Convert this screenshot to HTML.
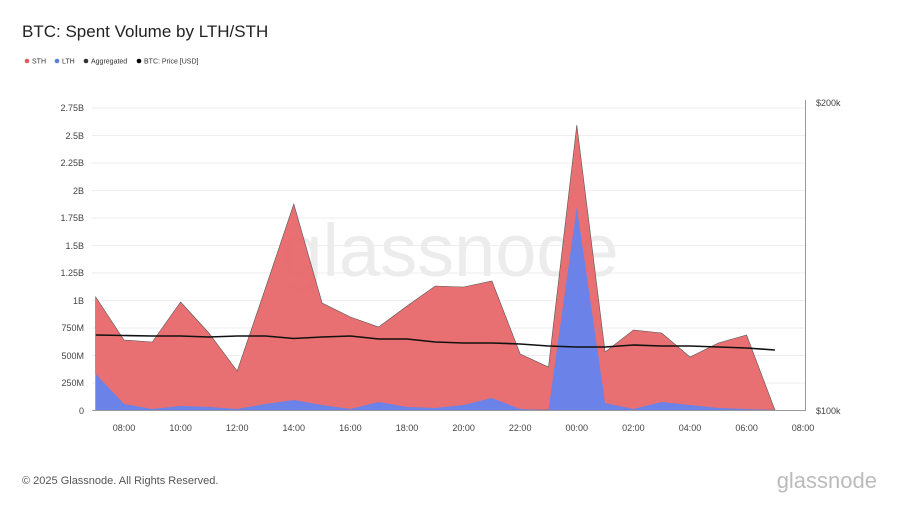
<!DOCTYPE html>
<html><head><meta charset="utf-8"><style>
body{margin:0;width:900px;height:506px;background:#fff;font-family:"Liberation Sans",sans-serif;overflow:hidden}
</style></head><body>
<svg width="900" height="506" xmlns="http://www.w3.org/2000/svg" font-family="Liberation Sans, sans-serif">
<text x="22" y="37" font-size="17" fill="#222">BTC: Spent Volume by LTH/STH</text>
<g font-size="7" fill="#333">
<circle cx="27" cy="61" r="2.3" fill="#e05a5c"/><text x="32" y="63.5">STH</text>
<circle cx="57" cy="61" r="2.3" fill="#5a7ce0"/><text x="62" y="63.5">LTH</text>
<circle cx="86" cy="61" r="2.3" fill="#333"/><text x="91" y="63.5">Aggregated</text>
<circle cx="139" cy="61" r="2.3" fill="#000"/><text x="144" y="63.5">BTC: Price [USD]</text>
</g>
<g stroke="#eee" stroke-width="1">
<line x1="92" x2="805" y1="108" y2="108"/><line x1="92" x2="805" y1="135.5" y2="135.5"/><line x1="92" x2="805" y1="163" y2="163"/><line x1="92" x2="805" y1="190.5" y2="190.5"/><line x1="92" x2="805" y1="218" y2="218"/><line x1="92" x2="805" y1="245.5" y2="245.5"/><line x1="92" x2="805" y1="273" y2="273"/><line x1="92" x2="805" y1="300.5" y2="300.5"/><line x1="92" x2="805" y1="328" y2="328"/><line x1="92" x2="805" y1="355.5" y2="355.5"/><line x1="92" x2="805" y1="383" y2="383"/>
</g>
<text x="450" y="276" font-size="74" fill="#ececec" text-anchor="middle">glassnode</text>
<g font-size="9" fill="#444" text-anchor="end">
<text x="84" y="111">2.75B</text><text x="84" y="139">2.5B</text><text x="84" y="166">2.25B</text><text x="84" y="194">2B</text><text x="84" y="221">1.75B</text><text x="84" y="249">1.5B</text><text x="84" y="276">1.25B</text><text x="84" y="304">1B</text><text x="84" y="331">750M</text><text x="84" y="359">500M</text><text x="84" y="386">250M</text><text x="84" y="414">0</text>
</g>
<polygon fill="#e8686a" fill-opacity="0.95" stroke="#555" stroke-width="0.6" points="95.7,410 95.7,297 124,340 152.3,342 180.6,302 208.9,333 237.2,371 265.5,288 293.8,204 322.1,303 350.4,317 378.7,327 407,306 435.3,286 463.6,287 491.9,281 520.2,354 548.5,367 576.8,125 605.1,352 633.4,330 661.7,333 690,357 718.3,343 746.6,335 774.9,410"/>
<polygon fill="#6b82e8" points="95.7,410 95.7,374 124,404 152.3,409 180.6,406 208.9,407 237.2,409 265.5,404 293.8,400 322.1,405 350.4,409 378.7,402 407,407 435.3,408 463.6,405 491.9,398 520.2,409 548.5,410 576.8,207 605.1,403 633.4,409 661.7,402 690,405 718.3,408 746.6,409 774.9,410"/>
<polyline fill="none" stroke="#111" stroke-width="1.6" points="95.7,335 124,335.5 152.3,336 180.6,336 208.9,337 237.2,336 265.5,336 293.8,338.5 322.1,337 350.4,336 378.7,339 407,339 435.3,342 463.6,343 491.9,343 520.2,344 548.5,346 576.8,347 605.1,347 633.4,345 661.7,346 690,346 718.3,347 746.6,348 774.9,350"/>
<line x1="92" x2="805" y1="410.5" y2="410.5" stroke="#999"/>
<line x1="805.5" x2="805.5" y1="100" y2="411" stroke="#999"/>
<g font-size="9" fill="#444" text-anchor="middle">
<text x="124" y="431">08:00</text><text x="180.6" y="431">10:00</text><text x="237.2" y="431">12:00</text><text x="293.8" y="431">14:00</text><text x="350.4" y="431">16:00</text><text x="407" y="431">18:00</text><text x="463.6" y="431">20:00</text><text x="520.2" y="431">22:00</text><text x="576.8" y="431">00:00</text><text x="633.4" y="431">02:00</text><text x="690" y="431">04:00</text><text x="746.6" y="431">06:00</text><text x="803" y="431">08:00</text>
</g>
<g font-size="9" fill="#444"><text x="816" y="106">$200k</text><text x="816" y="414">$100k</text></g>
<text x="22" y="484" font-size="11" fill="#555">© 2025 Glassnode. All Rights Reserved.</text>
<text x="877" y="488" font-size="22" fill="#bbb" text-anchor="end">glassnode</text>
</svg>
</body></html>
